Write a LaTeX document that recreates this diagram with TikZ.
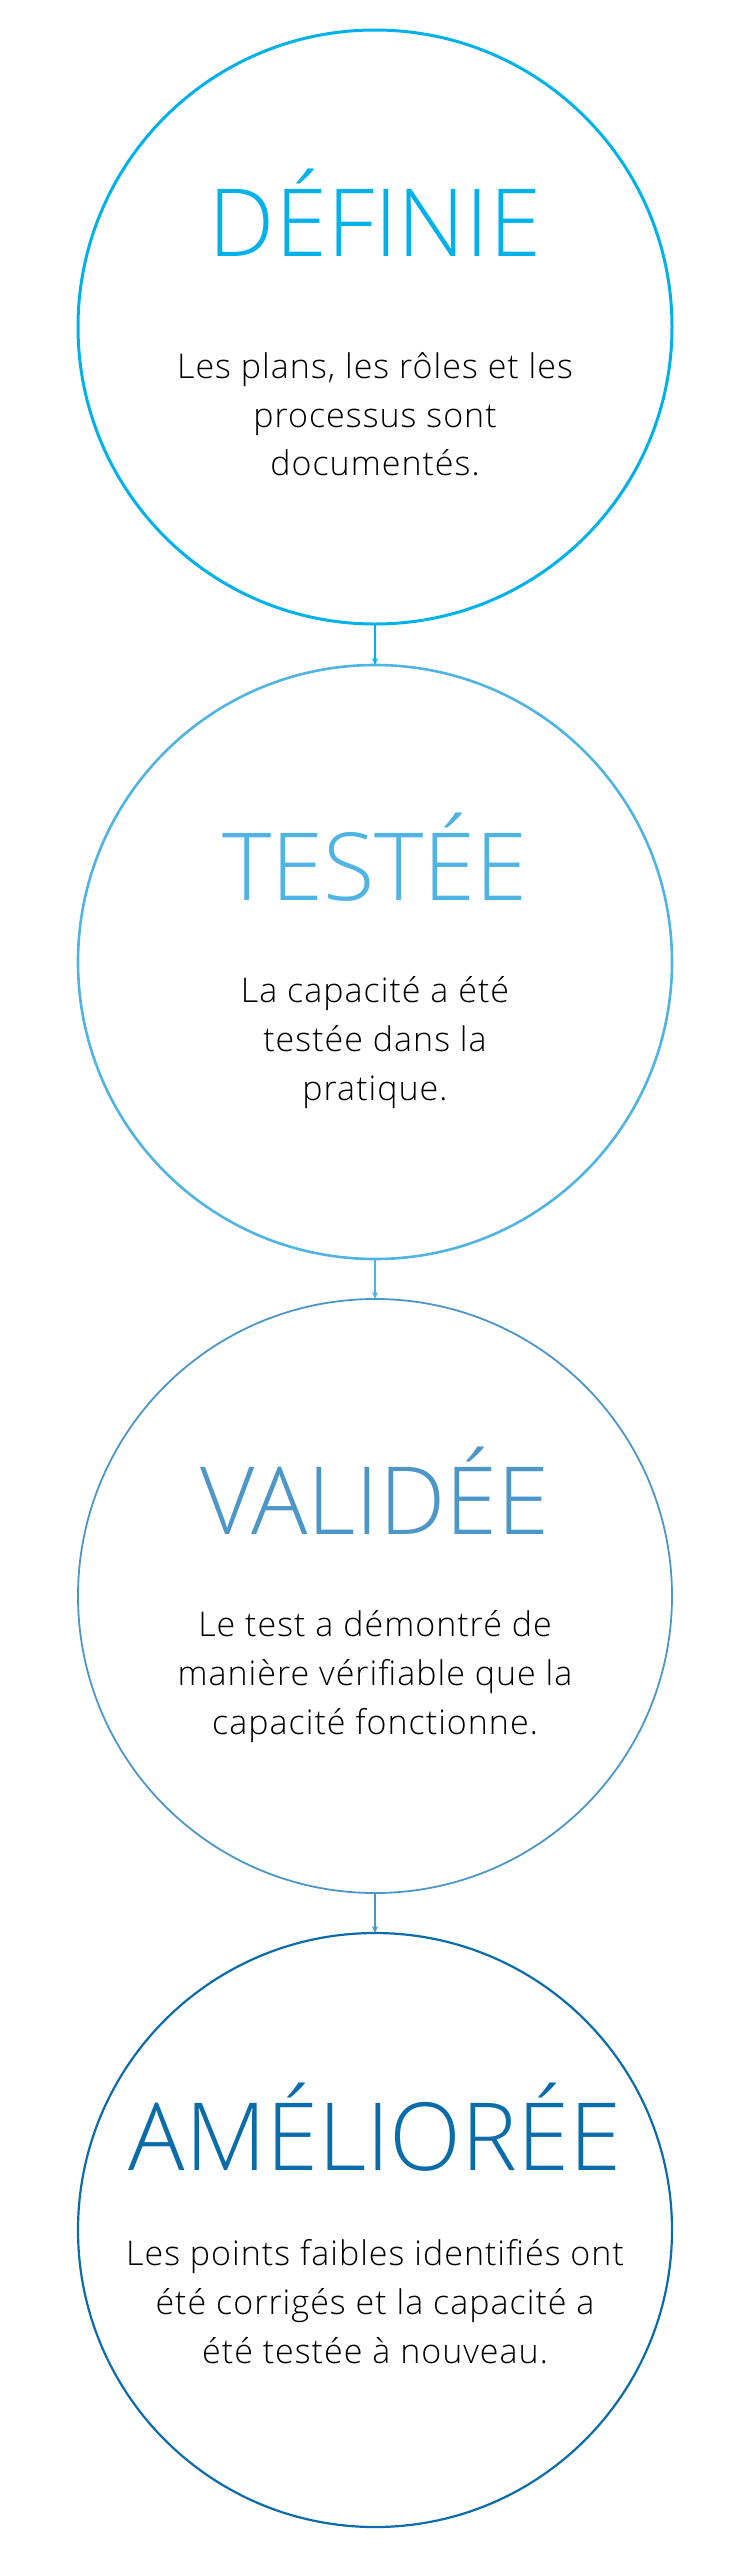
\documentclass[tikz,border=0pt]{standalone}
\usepackage{fontspec}
\setmainfont{Open Sans}[UprightFont=* Light]
\newfontfamily\bodyfont{Open Sans}[UprightFont=* Light, LetterSpace=3]
\usetikzlibrary{arrows.meta}
\definecolor{cA}{HTML}{00B2E9}
\definecolor{cB}{HTML}{4FB4E1}
\definecolor{cC}{HTML}{4C96C8}
\definecolor{cD}{HTML}{0A6CA8}
\definecolor{txt}{HTML}{000000}
\tikzset{
  ring/.style={circle, draw=#1, inner sep=0pt, outer sep=0pt, minimum size=594pt},
  ttl/.style={anchor=base, text=#1, font=\fontsize{94}{94}\selectfont, inner sep=0pt},
  bodyline/.style={anchor=base, text=txt, font=\bodyfont\fontsize{34}{34}\selectfont, inner sep=0pt},
  link/.style={draw=#1, line width=1.6pt, -{Stealth[length=7pt,width=6pt]}},
}
\begin{document}
\begin{tikzpicture}[x=1pt,y=-1pt]
\useasboundingbox (0,0) rectangle (751,2560);
% circles
\node[ring=cA, line width=3pt] (c1) at (375,327) {};
\node[ring=cB, line width=2.6pt] (c2) at (375,962) {};
\node[ring=cC, line width=1.8pt] (c3) at (375,1596) {};
\node[ring=cD, line width=2.2pt] (c4) at (375,2230) {};
% connectors
\draw[link=cA] (c1.south) -- (c2.north);
\draw[link=cB] (c2.south) -- (c3.north);
\draw[link=cC] (c3.south) -- (c4.north);
% circle 1
\node[ttl=cA] (t1) at (375,256) {DÉFINIE};
\node[bodyline] (b11) at (375,378) {Les plans, les rôles et les};
\node[bodyline] (b12) at (375,427) {processus sont};
\node[bodyline] (b13) at (375,475) {documentés.};
% circle 2
\node[ttl=cB] (t2) at (375,900) {TESTÉE};
\node[bodyline] (b21) at (375,1002) {La capacité a été};
\node[bodyline] (b22) at (375,1051) {testée dans la};
\node[bodyline] (b23) at (375,1100) {pratique.};
% circle 3
\node[ttl=cC] (t3) at (375,1534) {VALIDÉE};
\node[bodyline] (b31) at (375,1636) {Le test a démontré de};
\node[bodyline] (b32) at (375,1685) {manière vérifiable que la};
\node[bodyline] (b33) at (375,1734) {capacité fonctionne.};
% circle 4
\node[ttl=cD] (t4) at (375,2170) {AMÉLIORÉE};
\node[bodyline] (b41) at (375,2265) {Les points faibles identifiés ont};
\node[bodyline] (b42) at (375,2314) {été corrigés et la capacité a};
\node[bodyline] (b43) at (375,2363) {été testée à nouveau.};
\end{tikzpicture}
\end{document}
